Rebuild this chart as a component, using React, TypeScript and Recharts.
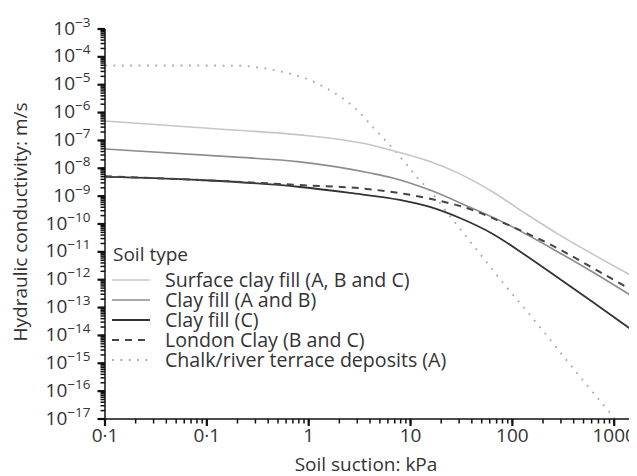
import React from 'react';
import { LineChart, Line, XAxis, YAxis, Legend } from 'recharts';

// Soil suction (kPa) and hydraulic conductivity (m/s) for each soil type
const surfaceSuction = [0.01, 0.18, 0.82, 3.72, 7.18, 14.5, 30.5, 64.3, 138, 292, 615, 1600];
const surfaceK = [5.0e-7, 2.37e-7, 1.58e-7, 7.4e-8, 4.0e-8, 1.9e-8, 6.3e-9, 1.41e-9, 2.24e-10, 4.0e-11, 8.3e-12, 1.2e-12];

const clayABSuction = [0.01, 0.18, 0.82, 4.0, 6.7, 15.5, 38.2, 80.5, 292, 631, 1600];
const clayABK = [4.9e-8, 2.57e-8, 1.7e-8, 6.8e-9, 4.5e-9, 1.66e-9, 4.0e-10, 1.17e-10, 9.1e-12, 1.78e-12, 2.2e-13];

const clayCSuction = [0.01, 0.0855, 0.82, 2.54, 7.85, 15.5, 30.5, 64.3, 138, 292, 615, 1590];
const clayCK = [4.9e-9, 3.8e-9, 2.13e-9, 1.3e-9, 7.3e-10, 4.1e-10, 1.64e-10, 4.4e-11, 7.1e-12, 1.06e-12, 1.59e-13, 1.33e-14];

const londonSuction = [0.01, 0.085, 0.82, 3.72, 14.5, 40.8, 80.5, 199, 366, 721, 1600];
const londonK = [5.2e-9, 3.8e-9, 2.5e-9, 1.82e-9, 8.5e-10, 3.16e-10, 1.12e-10, 2.5e-11, 7.8e-12, 1.9e-12, 3.7e-13];

const chalkSuction = [0.01, 0.1, 0.211, 0.31, 0.446, 0.653, 0.96, 1.38, 2.02, 2.97, 4.27, 5.98, 8.4, 11.5, 16.2, 25.4, 45.7, 84.1, 155, 292, 537, 863, 1010];
const chalkK = [4.9e-5, 4.9e-5, 4.8e-5, 4.2e-5, 3.4e-5, 2.5e-5, 1.62e-5, 8.7e-6, 3.8e-6, 1.26e-6, 3.0e-7, 8.1e-8, 2.0e-8, 4.9e-9, 1.29e-9, 1.58e-10, 1.07e-11, 6.5e-13, 4.6e-14, 2.6e-15, 1.66e-16, 2.1e-17, 1.05e-17];

// Axis ticks
const xMajorTicks = [0.01, 0.1, 1, 10, 100, 1000];
const xTickLabels = ['0·1', '0·1', '1', '10', '100', '1000'];
const yExponents = [-3, -4, -5, -6, -7, -8, -9, -10, -11, -12, -13, -14, -15, -16, -17];

const seriesNames = [
  'Surface clay fill (A, B and C)',
  'Clay fill (A and B)',
  'Clay fill (C)',
  'London Clay (B and C)',
  'Chalk/river terrace deposits (A)',
];

const FONT = '"Open Sans", "Noto Sans", sans-serif';
const TEXT = '#333';
const AXIS = '#111';

const X_MIN = 0.01;
const X_MAX = 1600;
const Y_DOMAIN: [number, number] = [1e-17, 1e-3];

// every tick gets a short native tick line; decades get a longer mark on top
const MINOR_LEN = 4.5;
const TICK_MARGIN = 1;
const LABEL_OFFSET = MINOR_LEN + TICK_MARGIN;

const toPoints = (xs: number[], ks: number[]) => xs.map((x, i) => ({ x, k: ks[i] }));

const surfaceData = toPoints(surfaceSuction, surfaceK);
const clayABData = toPoints(clayABSuction, clayABK);
const clayCData = toPoints(clayCSuction, clayCK);
const londonData = toPoints(londonSuction, londonK);
const chalkData = toPoints(chalkSuction, chalkK);

type Style = { stroke: string; width: number; dash?: string };
const styles: Style[] = [
  { stroke: '#c6c6c6', width: 1.6 },
  { stroke: '#8c8c8c', width: 1.6 },
  { stroke: '#333333', width: 1.8 },
  { stroke: '#454545', width: 2, dash: '7 6' },
  { stroke: '#a8a8a8', width: 1.8, dash: '1.8 6.6' },
];

// Decades plus the 2..9 minor marks of each decade
const xTicks: number[] = [];
for (let n = -2; n <= 3; n++) {
  for (let m = 1; m <= 9; m++) {
    const v = m * Math.pow(10, n);
    if (v <= X_MAX * 1.0001) xTicks.push(v);
  }
}
const yTicks: number[] = [];
for (let n = -17; n <= -3; n++) {
  for (let m = 1; m <= 9; m++) {
    const v = m * Math.pow(10, n);
    if (v <= 1.0001e-3) yTicks.push(v);
  }
}

const isDecade = (v: number) => Math.abs(Math.log10(v) - Math.round(Math.log10(v))) < 1e-6;

const renderXTick = (props: any) => {
  const x = Number(props.x);
  const axisY = Number(props.y) - LABEL_OFFSET;
  const v = Number(props.payload?.value);
  const idx = xMajorTicks.findIndex((m) => Math.abs(m - v) / m < 1e-6);
  if (idx < 0) return <g />;
  return (
    <g>
      <rect x={x - 1.1} y={axisY} width={2.2} height={7} fill={AXIS} />
      <text x={x} y={axisY + 23} textAnchor="middle" fontSize={19} fill={TEXT} fontFamily={FONT}>
        {xTickLabels[idx]}
      </text>
    </g>
  );
};

const renderYTick = (props: any) => {
  const axisX = Number(props.x) + LABEL_OFFSET;
  const y = Number(props.y);
  const v = Number(props.payload?.value);
  if (!isDecade(v)) return <g />;
  const exp = Math.round(Math.log10(v));
  return (
    <g>
      <rect x={axisX - 7.5} y={y - 1.1} width={7.5} height={2.2} fill={AXIS} />
      <text x={axisX - 14.5} y={y + 5.5} textAnchor="end" fontSize={19} fill={TEXT} fontFamily={FONT}>
        <tspan>10</tspan>
        <tspan dy={-8} fontSize={13.5}>{'\u2212' + String(-exp)}</tspan>
      </text>
    </g>
  );
};

const XTitle = () => (
  <text x={358} y={463} textAnchor="middle" fontSize={19} fill={TEXT} fontFamily={FONT}>
    Soil suction: kPa
  </text>
);

const YTitle = () => (
  <text
    x={12}
    y={214}
    transform="rotate(-90 12 214)"
    textAnchor="middle"
    dominantBaseline="central"
    fontSize={19}
    fill={TEXT}
    fontFamily={FONT}
  >
    Hydraulic conductivity: m/s
  </text>
);

const SoilLegend = () => (
  <svg width={360} height={132} style={{ display: 'block', overflow: 'visible' }}>
    <text x={9} y={20.5} fontSize={19} fill={TEXT} fontFamily={FONT}>
      Soil type
    </text>
    {seriesNames.map((name, i) => {
      const s = styles[i];
      const ly = 40 + i * 20;
      return (
        <g key={name}>
          <line x1={8} x2={46} y1={ly} y2={ly} stroke={s.stroke} strokeWidth={s.width} strokeDasharray={s.dash} />
          <text x={61} y={ly + 6.5} fontSize={19.6} fill={TEXT} fontFamily={FONT}>
            {name}
          </text>
        </g>
      );
    })}
  </svg>
);

export default function App() {
  const seriesData = [surfaceData, clayABData, clayCData, londonData, chalkData];
  const order = [4, 0, 1, 2, 3];
  return (
    <div style={{ width: 629, height: 468, fontFamily: FONT }}>
      <LineChart width={629} height={468} margin={{ top: 21, right: 2, left: 0, bottom: 0 }}>
        <XAxis
          type="number"
          dataKey="x"
          scale="log"
          domain={[X_MIN, X_MAX]}
          allowDataOverflow
          ticks={xTicks}
          interval={0}
          tickSize={MINOR_LEN}
          tickMargin={TICK_MARGIN}
          tickLine={{ stroke: AXIS, strokeWidth: 1.5 }}
          tick={renderXTick}
          axisLine={{ stroke: AXIS, strokeWidth: 1.5 }}
          height={57}
          label={<XTitle />}
        />
        <YAxis
          type="number"
          dataKey="k"
          scale="log"
          domain={Y_DOMAIN}
          allowDataOverflow
          ticks={yTicks}
          interval={0}
          tickSize={MINOR_LEN}
          tickMargin={TICK_MARGIN}
          tickLine={{ stroke: AXIS, strokeWidth: 1.5 }}
          tick={renderYTick}
          axisLine={{ stroke: AXIS, strokeWidth: 1.5 }}
          width={97}
          label={<YTitle />}
        />
        <Legend
          layout="vertical"
          align="center"
          verticalAlign="middle"
          content={() => <SoilLegend />}
          wrapperStyle={{ position: 'absolute', left: 96, top: 232, width: 360, height: 132 }}
        />
        {order.map((i) => (
          <Line
            key={seriesNames[i]}
            name={seriesNames[i]}
            data={seriesData[i]}
            dataKey="k"
            type="monotone"
            stroke={styles[i].stroke}
            strokeWidth={styles[i].width}
            strokeDasharray={styles[i].dash}
            dot={false}
            activeDot={false}
            isAnimationActive={false}
          />
        ))}
      </LineChart>
    </div>
  );
}
